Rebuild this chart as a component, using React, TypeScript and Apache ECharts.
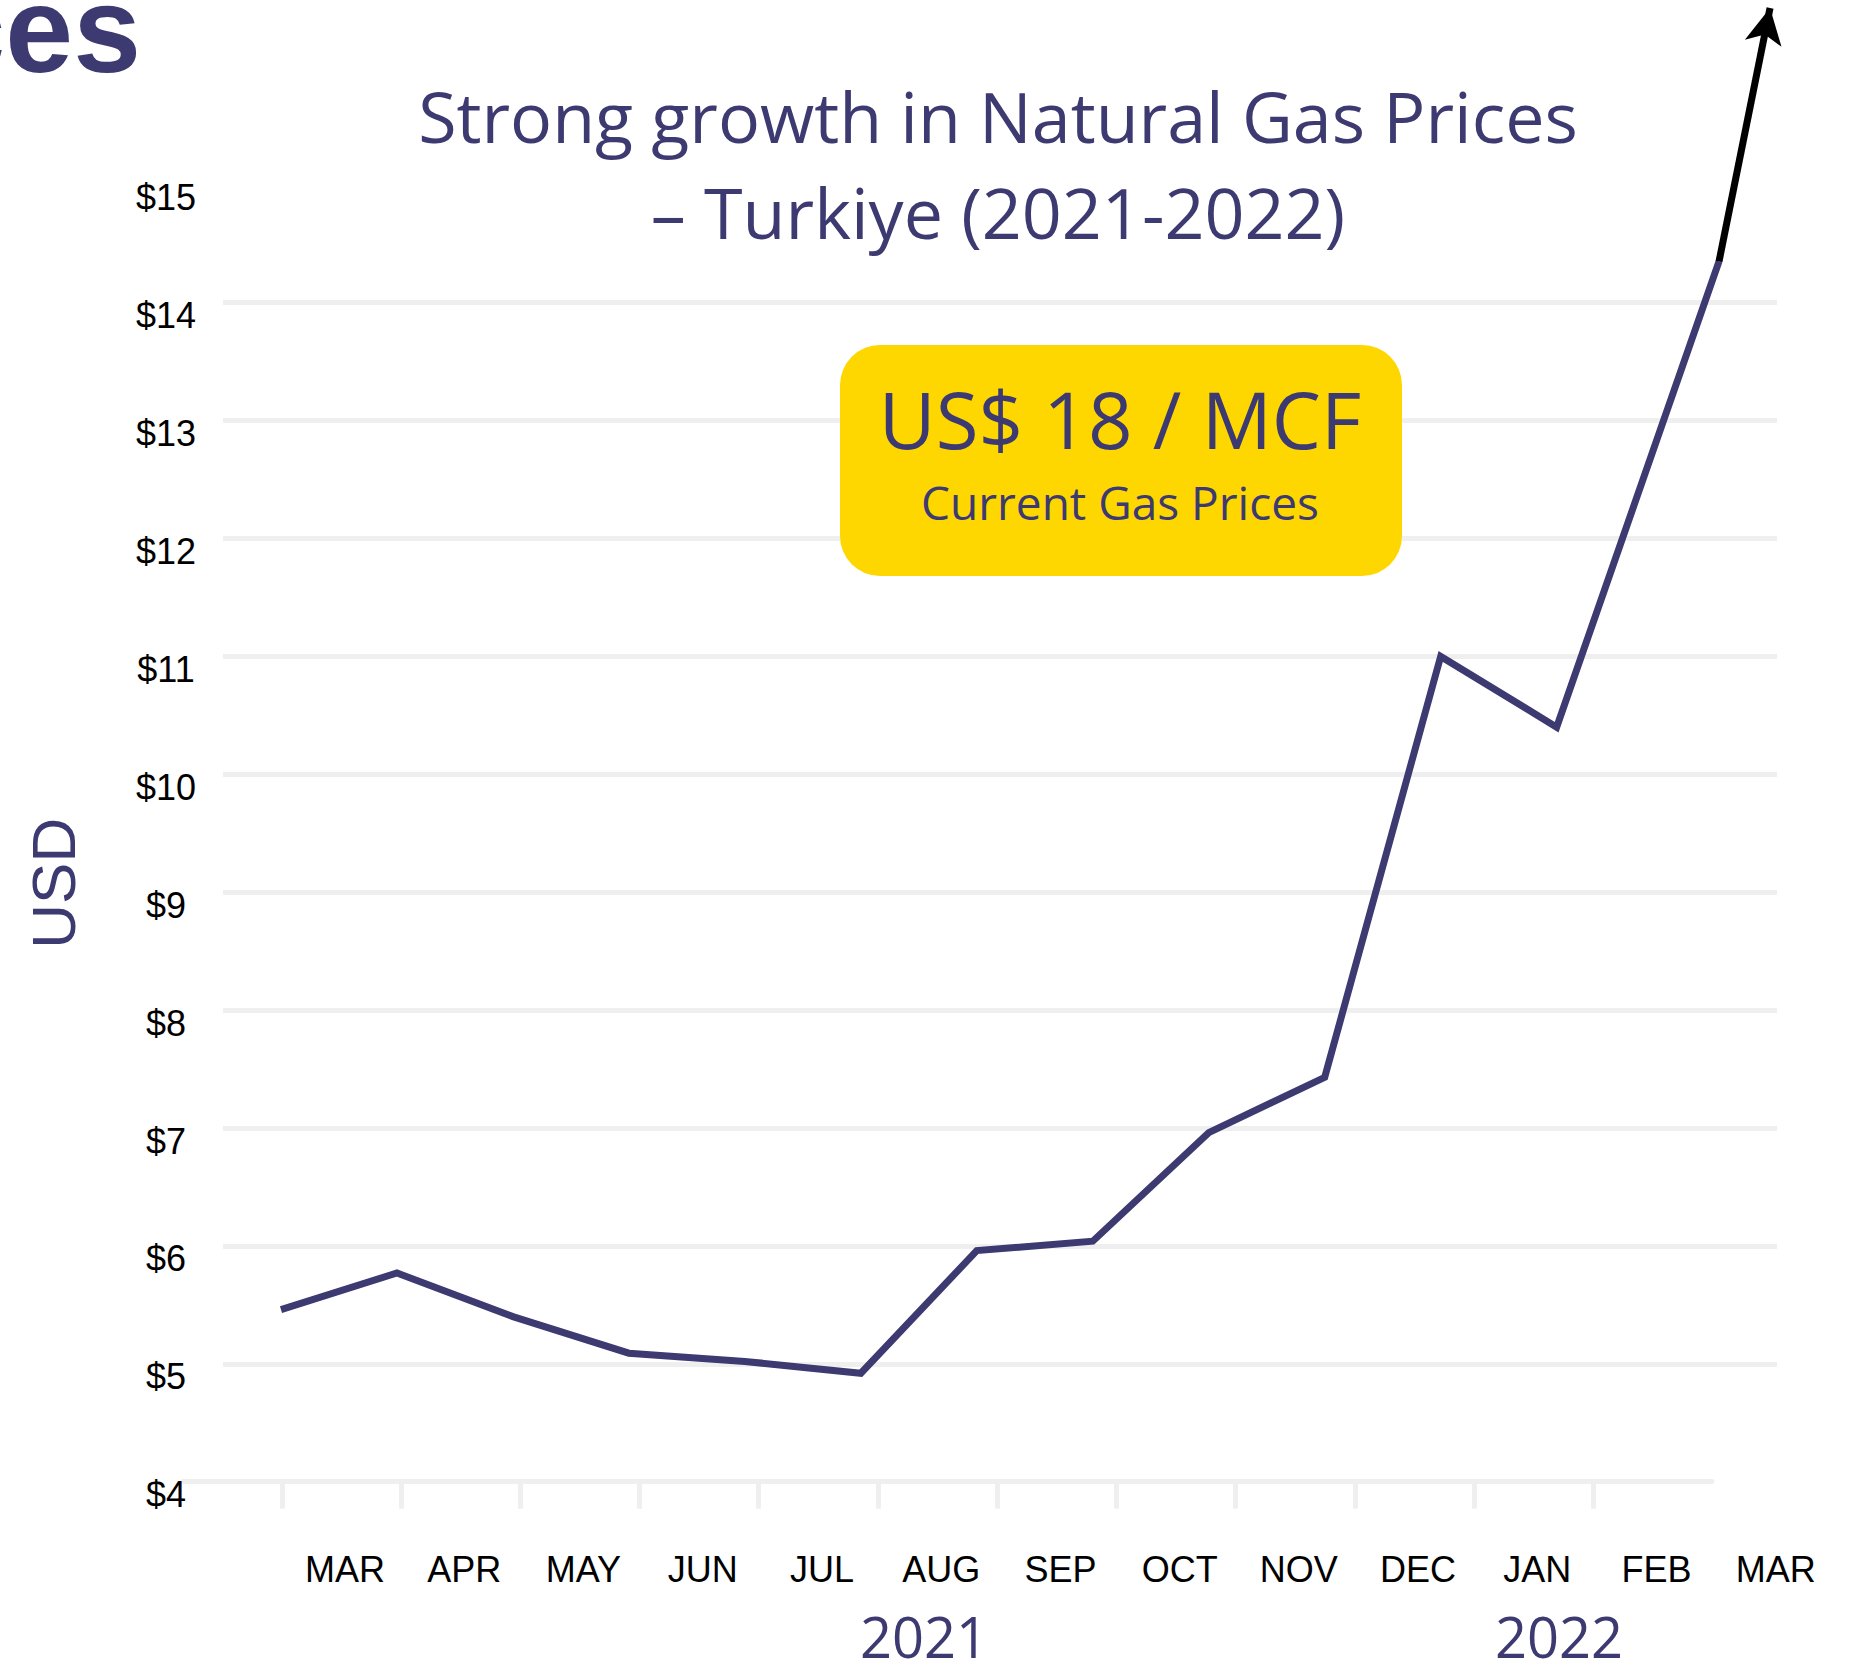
import React, { useEffect, useRef } from "react";
import * as echarts from "echarts";

// ---- data ----
const months = ["MAR", "APR", "MAY", "JUN", "JUL", "AUG", "SEP", "OCT", "NOV", "DEC", "JAN", "FEB", "MAR"];
// position of each observation in months since Mar 2021 (last = current, mid-Mar 2022)
const monthPos = [0, 1, 2, 3, 4, 5, 6, 7, 8, 9, 10, 11, 12.4];
const prices = [5.46, 5.77, 5.4, 5.09, 5.02, 4.92, 5.96, 6.04, 6.96, 7.43, 11.0, 10.4, 14.35];
// arrow showing the price leaving the scale toward US$18
const arrowEnd = [12.84, 16.5];
const yMin = 4;
const yMax = 15;
const yearLabels = ["2021", "2022"];

const NAVY = "#3c3a70";
const GRID = "#efefef";

export default function App() {
  const ref = useRef<HTMLDivElement>(null);

  useEffect(() => {
    if (!ref.current) return;
    const chart = echarts.init(ref.current, null, { renderer: "svg" });

    const lineData = monthPos.map((x, i) => [x, prices[i]]);
    const last = lineData[lineData.length - 1];

    const centerText = (text: string, x: number, y: number, fontSize: number, extra: any = {}) => ({
      type: "text",
      x,
      y,
      z: 20,
      style: {
        text,
        fontSize,
        fontFamily: "Open Sans",
        fill: NAVY,
        align: "center",
        textAlign: "center",
        verticalAlign: "middle",
        textVerticalAlign: "middle",
        ...extra,
      },
    });

    const option: any = {
      animation: false,
      backgroundColor: "#ffffff",
      grid: [
        { left: 223, right: 75, top: 184.8, bottom: 191.3, outerBoundsMode: "none", containLabel: false },
        { left: 183, right: 140, top: 184.8, bottom: 191.3, outerBoundsMode: "none", containLabel: false },
      ],
      xAxis: [
        {
          gridIndex: 0,
          type: "value",
          min: -0.5,
          max: 12.9,
          axisLine: { show: false },
          axisTick: { show: false },
          axisLabel: { show: false },
          splitLine: { show: false },
        },
        {
          gridIndex: 0,
          type: "value",
          position: "bottom",
          min: -1.023,
          max: 12.01,
          axisLine: { show: false },
          splitLine: { show: false },
          axisTick: {
            show: true,
            customValues: months.slice(0, 12).map((_, i) => i - 0.53),
            length: 27,
            lineStyle: { color: GRID, width: 5 },
          },
          axisLabel: {
            show: true,
            customValues: months.map((_, i) => i),
            formatter: (v: number) => months[Math.round(v)] ?? "",
            margin: 70,
            fontSize: 36,
            color: "#000",
            fontFamily: "Liberation Sans",
          },
        },
        {
          gridIndex: 1,
          type: "value",
          min: 0,
          max: 1,
          axisLine: { show: true, lineStyle: { color: GRID, width: 5 } },
          axisTick: { show: false },
          axisLabel: { show: false },
          splitLine: { show: false },
        },
      ],
      yAxis: [
        {
          gridIndex: 0,
          type: "value",
          min: yMin,
          max: yMax,
          interval: 1,
          name: "USD",
          nameLocation: "middle",
          nameRotate: 90,
          nameGap: 139,
          nameTextStyle: {
            fontSize: 62,
            lineHeight: 62,
            color: NAVY,
            fontFamily: "Liberation Sans",
            padding: [0, 100, 0, 0],
          },
          axisLine: { show: false },
          axisTick: { show: false },
          splitLine: {
            show: true,
            showMinLine: false,
            showMaxLine: false,
            lineStyle: { color: GRID, width: 5 },
          },
          axisLabel: {
            formatter: (v: number) => "$" + v,
            fontSize: 36,
            color: "#000",
            fontFamily: "Liberation Sans",
            align: "center",
            verticalAlign: "top",
            lineHeight: 26,
            margin: 57,
          },
        },
        { gridIndex: 1, type: "value", min: yMin, max: yMax, show: false },
      ],
      series: [
        {
          type: "line",
          xAxisIndex: 0,
          yAxisIndex: 0,
          data: lineData,
          symbol: "none",
          lineStyle: { color: NAVY, width: 7, join: "miter" },
          z: 3,
        },
        {
          type: "line",
          xAxisIndex: 0,
          yAxisIndex: 0,
          clip: false,
          symbol: "none",
          showSymbol: true,
          itemStyle: { color: "#000" },
          lineStyle: { color: "#000", width: 7 },
          data: [
            { value: last, symbol: "none" },
            { value: arrowEnd, symbol: "arrow", symbolSize: [28, 36], symbolRotate: -11 },
          ],
          z: 4,
        },
      ],
      graphic: [
        {
          type: "text",
          x: 141,
          y: 30,
          z: 20,
          style: {
            text: "Prices",
            fontSize: 122,
            fontWeight: "bold",
            fontFamily: "Liberation Sans",
            fill: NAVY,
            align: "right",
            textAlign: "right",
            verticalAlign: "middle",
            textVerticalAlign: "middle",
          },
        },
        centerText("Strong growth in Natural Gas Prices\n– Turkiye (2021-2022)", 998, 164, 70, {
          lineHeight: 96,
        }),
        {
          type: "rect",
          x: 840,
          y: 345,
          z: 10,
          shape: { x: 0, y: 0, width: 562, height: 231, r: 40 },
          style: { fill: "#FFD700" },
        },
        centerText("US$ 18 / MCF", 1120, 419, 78, { lineHeight: 80 }),
        centerText("Current Gas Prices", 1120, 502, 46, { lineHeight: 50 }),
        centerText(yearLabels[0], 924, 1636, 56, { lineHeight: 50 }),
        centerText(yearLabels[1], 1559, 1636, 56, { lineHeight: 50 }),
      ],
    };

    chart.setOption(option);
    return () => chart.dispose();
  }, []);

  return (
    <div
      ref={ref}
      style={{ position: "absolute", left: 0, top: 0, width: 1852, height: 1673, background: "#fff" }}
    />
  );
}
